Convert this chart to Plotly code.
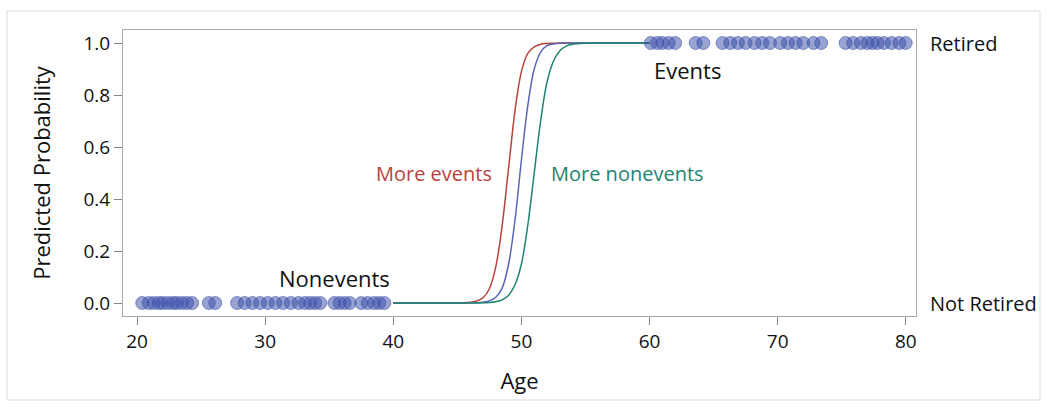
import plotly.graph_objects as go

# Observed data: ages of nonevents (Not Retired, 0) and events (Retired, 1)
nonevent_ages = [20.4, 20.9, 21.3, 21.7, 22.0, 22.4, 22.8, 23.1, 23.5, 23.9, 24.3,
                 25.6, 26.1, 27.8, 28.4, 29.0, 29.6, 30.2, 30.8, 31.4, 32.0, 32.6,
                 33.1, 33.5, 33.9, 34.3, 35.4, 35.8, 36.2, 36.6, 37.5, 38.0, 38.5,
                 38.9, 39.3]
event_ages = [60.1, 60.6, 61.0, 61.5, 62.0, 63.6, 64.2, 65.7, 66.3, 66.9, 67.5,
              68.2, 68.8, 69.4, 70.2, 70.8, 71.4, 72.0, 72.8, 73.4, 75.3, 75.9,
              76.5, 77.0, 77.4, 77.8, 78.3, 78.9, 79.5, 80.0]

# Fitted curves
curve_age = [40, 44, 45, 46, 46.5, 47, 47.5, 48, 48.5, 49, 49.5, 50, 50.5, 51,
             51.5, 52, 52.5, 53, 53.5, 54, 55, 56, 60]
p_more_events = [0, 0.0001, 0.0004, 0.003, 0.008, 0.02, 0.055, 0.14, 0.30, 0.52,
                 0.74, 0.89, 0.96, 0.985, 0.995, 0.998, 0.999, 1, 1, 1, 1, 1, 1]
p_base = [0, 0, 0.0001, 0.0005, 0.001, 0.003, 0.008, 0.022, 0.058, 0.15, 0.32,
          0.55, 0.76, 0.90, 0.965, 0.99, 0.996, 0.999, 1, 1, 1, 1, 1]
p_more_nonevents = [0, 0, 0, 0.0001, 0.0003, 0.0007, 0.002, 0.005, 0.012, 0.03,
                    0.07, 0.15, 0.30, 0.50, 0.70, 0.85, 0.93, 0.97, 0.988, 0.995,
                    0.999, 1, 1]

x_ticks = [20, 30, 40, 50, 60, 70, 80]
y_ticks = [0.0, 0.2, 0.4, 0.6, 0.8, 1.0]

RED = "#b8433b"
BLUE = "#5767b5"
GREEN = "#1e8470"
FONT = "Open Sans, Noto Sans, sans-serif"

fig = go.Figure()
fig.add_trace(go.Scatter(x=curve_age, y=p_more_events, mode="lines", line_shape="spline",
                         line=dict(color=RED, width=1.5), hoverinfo="skip"))
fig.add_trace(go.Scatter(x=curve_age, y=p_base, mode="lines", line_shape="spline",
                         line=dict(color=BLUE, width=1.5), hoverinfo="skip"))
fig.add_trace(go.Scatter(x=curve_age, y=p_more_nonevents, mode="lines", line_shape="spline",
                         line=dict(color=GREEN, width=1.5), hoverinfo="skip"))
mk = dict(size=13, color="rgba(58,78,168,0.52)", line=dict(color="rgba(58,78,168,0.55)", width=1))
fig.add_trace(go.Scatter(x=nonevent_ages, y=[0] * len(nonevent_ages), mode="markers", marker=mk))
fig.add_trace(go.Scatter(x=event_ages, y=[1] * len(event_ages), mode="markers", marker=mk))

anns = [
    dict(x=35.4, y=0.096, text="Nonevents", font=dict(size=22, color="#111111")),
    dict(x=63.0, y=0.896, text="Events", font=dict(size=22, color="#111111")),
    dict(x=47.85, y=0.50, text="More events", xanchor="right", font=dict(size=20, color=RED)),
    dict(x=52.15, y=0.50, text="More nonevents", xanchor="left", font=dict(size=20, color=GREEN)),
]
for a in anns:
    a.setdefault("xanchor", "center")
    fig.add_annotation(xref="x", yref="y", showarrow=False, yanchor="middle", **a)

fig.add_annotation(xref="paper", yref="y", x=1.0, y=1.0, xanchor="left", xshift=12,
                   text="Retired", showarrow=False, font=dict(size=20, color="#111111"))
fig.add_annotation(xref="paper", yref="y", x=1.0, y=0.0, xanchor="left", xshift=12,
                   text="Not Retired", showarrow=False, font=dict(size=20, color="#111111"))

# outer light frame
fig.add_shape(type="rect", xref="paper", yref="paper", x0=-0.1463, x1=1.1564,
              y0=-0.2937, y1=1.0664, line=dict(color="#dadada", width=1), layer="below")

fig.update_layout(
    width=1047, height=407,
    margin=dict(l=123, r=131, t=30, b=91),
    paper_bgcolor="white", plot_bgcolor="white",
    showlegend=False,
    font=dict(family=FONT, size=19, color="#111111"),
)
fig.update_xaxes(range=[18.9, 80.8], tickvals=x_ticks, ticks="outside", ticklen=8,
                 tickcolor="#888888", showgrid=False, zeroline=False, showline=True,
                 linecolor="#a8a8a8", mirror=True, tickfont=dict(size=19),
                 title=dict(text="Age", font=dict(size=22), standoff=20))
fig.update_yaxes(range=[-0.05, 1.05], tickvals=y_ticks, tickformat=".1f", ticks="outside",
                 ticklen=8, tickcolor="#888888", showgrid=False, zeroline=False,
                 showline=True, linecolor="#a8a8a8", mirror=True, tickfont=dict(size=19),
                 title=dict(text="Predicted Probability", font=dict(size=22), standoff=26))

fig.write_html("out.html")
